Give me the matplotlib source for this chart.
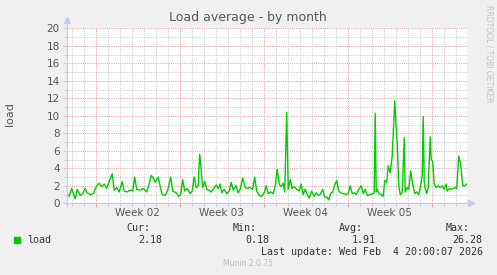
import matplotlib.pyplot as plt
from matplotlib.transforms import blended_transform_factory

# hours since start of graph (Jan 2, ~13:00) and load values
hours = [0, 5, 10, 17, 21, 27, 32, 37, 41, 47, 53, 60, 65, 70, 75, 80, 85, 91, 95, 100,
         105, 111, 115, 120, 127, 132, 136, 140, 147, 153, 160, 165, 169, 173, 177, 183, 187, 191, 197, 202,
         208, 212, 219, 224, 228, 232, 236, 241, 247, 251, 255, 259, 263, 266, 269, 272, 276, 280, 284, 289,
         293, 299, 303, 307, 310, 315, 320, 325, 329, 333, 339, 343, 347, 352, 357, 361, 367, 372, 376, 380,
         385, 390, 395, 399, 403, 408, 413, 417, 421, 425, 429, 433, 436, 440, 443, 447, 451, 455, 460, 465,
         469, 473, 477, 481, 485, 490, 495, 499, 503, 507, 512, 516, 521, 524, 528, 532, 536, 540, 544, 548,
         553, 559, 563, 567, 571, 575, 579, 584, 589, 593, 597, 601, 607, 612, 615, 617, 619, 621, 625, 629,
         633, 636, 640, 643, 647, 651, 656, 659, 661, 664, 667, 671, 675, 677, 681, 684, 688, 692, 696, 700,
         704, 707, 711, 713, 715, 717, 720, 723, 727, 729, 732, 735, 739, 743, 747, 751, 755, 759, 761, 765,
         769, 773, 777, 780, 784, 788, 792, 796, 800]
load = [1.1, 0.8, 1.7, 0.5, 1.6, 0.9, 1.1, 1.7, 1.2, 1.0, 1.1, 2.0, 2.3, 1.9, 2.2, 1.7, 2.5, 3.4, 1.5, 1.8,
        1.3, 2.5, 1.4, 1.3, 1.5, 1.4, 3.0, 1.6, 1.5, 1.7, 1.3, 2.2, 3.2, 2.9, 2.4, 3.0, 1.9, 1.0, 0.9, 1.5,
        3.0, 1.4, 1.2, 0.8, 1.0, 2.7, 1.4, 1.7, 1.1, 1.4, 3.0, 1.8, 2.0, 5.6, 3.8, 1.8, 2.5, 1.6, 1.5, 1.3,
        1.6, 2.1, 1.7, 2.2, 1.2, 1.6, 1.1, 1.4, 2.4, 1.5, 2.0, 1.2, 1.6, 2.9, 1.8, 1.7, 1.8, 1.6, 3.0, 1.4,
        0.9, 0.8, 1.2, 2.0, 1.1, 1.3, 1.1, 2.0, 3.9, 2.2, 1.9, 2.3, 1.3, 10.4, 1.6, 2.7, 1.7, 1.9, 1.6, 1.4,
        2.2, 1.0, 1.6, 1.0, 0.6, 1.4, 0.8, 1.2, 0.9, 1.0, 1.6, 0.7, 0.7, 0.4, 1.1, 1.3, 2.1, 2.6, 1.4, 1.2,
        1.1, 1.0, 1.1, 2.0, 1.1, 1.2, 1.0, 1.6, 2.0, 1.1, 1.6, 0.9, 1.0, 1.1, 1.2, 10.3, 1.3, 1.6, 1.1, 1.0,
        0.8, 2.6, 2.4, 4.3, 3.5, 5.4, 11.7, 8.5, 7.0, 2.1, 1.0, 1.2, 7.5, 1.3, 1.8, 1.6, 3.7, 2.2, 1.1, 1.3,
        1.0, 1.8, 3.1, 9.9, 2.5, 1.7, 1.1, 1.8, 7.6, 5.0, 4.8, 2.2, 1.8, 2.0, 1.8, 2.0, 1.6, 2.2, 1.4, 1.7,
        1.6, 1.7, 1.8, 1.7, 5.4, 4.5, 2.0, 2.0, 2.2]

week_labels = ['Week 02', 'Week 03', 'Week 04', 'Week 05']
first_week = 58   # hour of first Monday 00:00 in the graph
span = 800

stats_head = ['Cur:', 'Min:', 'Avg:', 'Max:']
stats_vals = ['2.18', '0.18', '1.91', '26.28']

W, H = 497, 275
bg = '#F0F0F0'
fig = plt.figure(figsize=(W / 100, H / 100), dpi=100, facecolor=bg)
x0, x1, y0, y1 = 66.7, 466.7, 28.3, 203.3
ax = fig.add_axes([x0 / W, 1 - y1 / H, (x1 - x0) / W, (y1 - y0) / H])
ax.set_facecolor('white')
ax.set_xlim(0, span)
ax.set_ylim(0, 20)
for s in ax.spines.values():
    s.set_visible(False)

minor_c = '#CCCCCC'
major_c = '#E6A0A0'
dot = dict(lw=0.72, dashes=(1, 1.2), zorder=1)
for v in range(1, 21):
    ax.axhline(v, color=major_c if v % 2 == 0 else minor_c, **dot)
day = first_week - 48
while day < span:
    is_week = (day - first_week) % 168 == 0
    ax.axvline(day, color=major_c if is_week else minor_c, **dot)
    day += 24

ax.plot(hours, load, color='#00CC00', lw=1.0, zorder=3)

# axes with arrows
axc = '#C8C8F0'
ax.plot([-3, span + 8], [0, 0], color=axc, lw=0.9, clip_on=False, zorder=4)
ax.plot([0, 0], [-0.3, 20.8], color=axc, lw=0.9, clip_on=False, zorder=4)
ax.plot([span + 9], [0], marker='>', ms=5, color=axc, clip_on=False, zorder=4)
ax.plot([0], [20.9], marker='^', ms=5, color=axc, clip_on=False, zorder=4)

tc = '#555555'
ax.set_yticks(range(0, 21, 2))
ax.set_yticks(range(1, 20, 2), minor=True)
ax.tick_params(axis='y', which='major', length=3, color=minor_c, labelsize=7.5, labelcolor=tc, pad=2)
ax.tick_params(axis='y', which='minor', length=2, color=minor_c)
weeks = [first_week + 168 * i for i in range(len(week_labels) + 1)]
ax.set_xticks(weeks)
ax.set_xticklabels([])
ax.set_xticks(range(first_week - 48, span, 24), minor=True)
ax.tick_params(axis='x', which='major', length=3, color=major_c)
ax.tick_params(axis='x', which='minor', length=2, color=minor_c)
tr = blended_transform_factory(ax.transData, fig.transFigure)
for i, lab in enumerate(week_labels):
    ax.text(weeks[i] + 84, 1 - 212.5 / H, lab, transform=tr, ha='center', va='center',
            fontsize=7.5, color=tc)

fig.text(248 / W, 1 - 18 / H, 'Load average - by month', ha='center', va='center',
         fontsize=9, color='#555555')
fig.text(9.5 / W, 1 - 114 / H, 'load', rotation=90, ha='center', va='center',
         fontsize=8, color='#555555')
fig.text(488.5 / W, 1 - 54 / H, 'RRDTOOL / TOBI OETIKER', rotation=270, ha='center', va='center',
         fontsize=5.5, color='#C4C4C4')

mono = dict(family='DejaVu Sans Mono', fontsize=7.2, color='#333333', va='center')
head_right = [150.3, 257, 363.3, 470]
val_right = [162.7, 269.3, 376, 482.7]
for hx, h in zip(head_right, stats_head):
    fig.text(hx / W, 1 - 227.7 / H, h, ha='right', **mono)
for vx, v in zip(val_right, stats_vals):
    fig.text(vx / W, 1 - 239.7 / H, v, ha='right', **mono)
fig.patches.append(plt.Rectangle((14 / W, 1 - 242.5 / H), 5.5 / W, 5.5 / H,
                                 transform=fig.transFigure, color='#00CC00'))
fig.text(26.7 / W, 1 - 239.7 / H, 'load', ha='left', **mono)
fig.text(482.7 / W, 1 - 251.7 / H, 'Last update: Wed Feb  4 20:00:07 2026', ha='right', **mono)
fig.text(247.7 / W, 1 - 264 / H, 'Munin 2.0.75', ha='center', va='center',
         fontsize=5.5, color='#BBBBBB')

fig.savefig('out.png', dpi=100, facecolor=bg)
